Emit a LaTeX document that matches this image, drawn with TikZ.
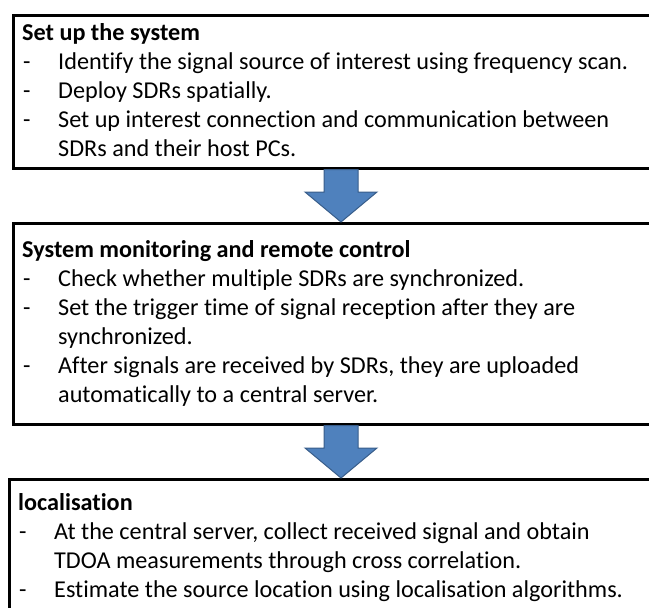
\documentclass[tikz,border=0pt]{standalone}
\usepackage{fontspec}
\setmainfont{Carlito}[Ligatures=NoCommon]
\usetikzlibrary{calc}

\definecolor{arrowfill}{HTML}{4F81BD}
\definecolor{arrowline}{HTML}{385D8A}

\tikzset{
  panel/.style={draw=black, line width=2.5pt, fill=white, inner sep=0pt,
                anchor=north west, minimum width=700pt},
  line/.style={anchor=base west, inner sep=0pt, font=\fontsize{24.2}{29}\selectfont},
  head/.style={line, font=\fontsize{24.2}{29}\selectfont\bfseries},
  flowarrow/.style={fill=arrowfill, draw=arrowline, line width=1pt, line join=miter}
}

\begin{document}
\begin{tikzpicture}[x=1pt, y=-1pt]
  \useasboundingbox (0,0) rectangle (649,608);
  \clip (0,0) rectangle (649,608);

  % three stage panels (they run past the right and bottom edges)
  \node[panel, minimum height=153pt] (b1) at (12,14) {};
  \node[panel, minimum height=201pt] (b2) at (12,222) {};
  \node[panel, minimum height=170pt] (b3) at (8,478) {};

  % block arrows between the panels
  \coordinate (axis) at (341,0);
  \path[flowarrow] let \p1=(b1.south -| axis), \p2=(b2.north -| axis) in
    (\x1-17pt,\y1) -- (\x1+17pt,\y1) -- (\x1+17pt,\y2+30pt) -- (\x1+36pt,\y2+30pt)
    -- (\x2,\y2) -- (\x1-36pt,\y2+30pt) -- (\x1-17pt,\y2+30pt) -- cycle;
  \path[flowarrow] let \p1=(b2.south -| axis), \p2=(b3.north -| axis) in
    (\x1-17pt,\y1) -- (\x1+17pt,\y1) -- (\x1+17pt,\y2+30pt) -- (\x1+36pt,\y2+30pt)
    -- (\x2,\y2) -- (\x1-36pt,\y2+30pt) -- (\x1-17pt,\y2+30pt) -- cycle;

  % stage 1
  \node[head] (t1) at (22,40) {Set up the system};
  \node[line] (d11) at (23,69) {-};
  \node[line] (l11) at (58,69) {Identify the signal source of interest using frequency scan.};
  \node[line] (d12) at (23,98) {-};
  \node[line] (l12) at (58,98) {Deploy SDRs spatially.};
  \node[line] (d13) at (23,127) {-};
  \node[line] (l13) at (58,127) {Set up interest connection and communication between};
  \node[line] (l14) at (58,156) {SDRs and their host PCs.};

  % stage 2
  \node[head] (t2) at (22,257) {System monitoring and remote control};
  \node[line] (d21) at (23,286) {-};
  \node[line] (l21) at (58,286) {Check whether multiple SDRs are synchronized.};
  \node[line] (d22) at (23,315) {-};
  \node[line] (l22) at (58,315) {Set the trigger time of signal reception after they are};
  \node[line] (l23) at (58,344) {synchronized.};
  \node[line] (d23) at (23,373) {-};
  \node[line] (l24) at (58,373) {After signals are received by SDRs, they are uploaded};
  \node[line] (l25) at (58,402) {automatically to a central server.};

  % stage 3
  \node[head] (t3) at (18,510) {localisation};
  \node[line] (d31) at (19,539) {-};
  \node[line] (l31) at (54,539) {At the central server, collect received signal and obtain};
  \node[line] (l32) at (54,568) {TDOA measurements through cross correlation.};
  \node[line] (d32) at (19,597) {-};
  \node[line] (l33) at (54,597) {Estimate the source location using localisation algorithms.};
\end{tikzpicture}
\end{document}
